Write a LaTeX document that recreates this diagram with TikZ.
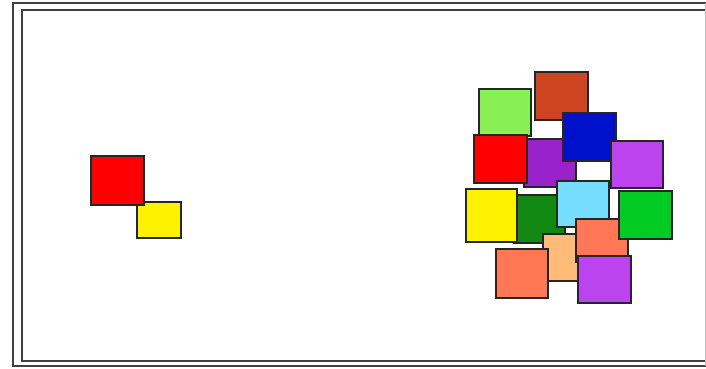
\documentclass[tikz,border=0pt]{standalone}
\begin{document}
\begin{tikzpicture}[x=1pt,y=-1pt,
  sq/.style={draw=black!85,line width=1.6pt,line join=miter},
  frame/.style={draw=black!75,line width=1.8pt}]
\definecolor{cbrown}{HTML}{CC4422}
\definecolor{clgreen}{HTML}{88F055}
\definecolor{cblue}{HTML}{0011CC}
\definecolor{cpurple}{HTML}{9922CC}
\definecolor{cmagenta}{HTML}{BB44EE}
\definecolor{cdgreen}{HTML}{118811}
\definecolor{clblue}{HTML}{77DDFF}
\definecolor{cgreen}{HTML}{00CC22}
\definecolor{ccoral}{HTML}{FF7755}
\definecolor{cpeach}{HTML}{FFBB77}
\useasboundingbox (0,0) rectangle (706,368);
\fill[white] (0,0) rectangle (706,368);
% frame
\draw[frame] (720,3) -- (13,3) -- (13,366) -- (720,366);
\draw[frame] (720,10) -- (22,10) -- (22,361) -- (720,361);
\draw[black!25,line width=1pt] (705,3) -- (705,366);
% left pair
\draw[sq,fill=red] (91,156) rectangle (144,205);
\draw[sq,fill=yellow] (137,202) rectangle (181,238);
\draw[sq,fill=red] (91,156) rectangle (144,205);
% cluster
\draw[sq,fill=cbrown] (535,72) rectangle (588,120);
\draw[sq,fill=clgreen] (479,89) rectangle (531,136);
\draw[sq,fill=cpurple] (524,139) rectangle (576,187);
\draw[sq,fill=red] (474,135) rectangle (527,183);
\draw[sq,fill=cblue] (563,113) rectangle (616,161);
\draw[sq,fill=cmagenta] (611,141) rectangle (663,188);
\draw[sq,fill=cdgreen] (514,195) rectangle (565,243);
\draw[sq,fill=yellow] (466,189) rectangle (517,242);
\draw[sq,fill=clblue] (557,181) rectangle (609,227);
\draw[sq,fill=cpeach] (543,234) rectangle (588,281);
\draw[sq,fill=ccoral] (576,219) rectangle (628,262);
\draw[sq,fill=cgreen] (619,191) rectangle (672,239);
\draw[sq,fill=ccoral] (496,249) rectangle (548,298);
\draw[sq,fill=cmagenta] (578,256) rectangle (631,303);
\end{tikzpicture}
\end{document}
